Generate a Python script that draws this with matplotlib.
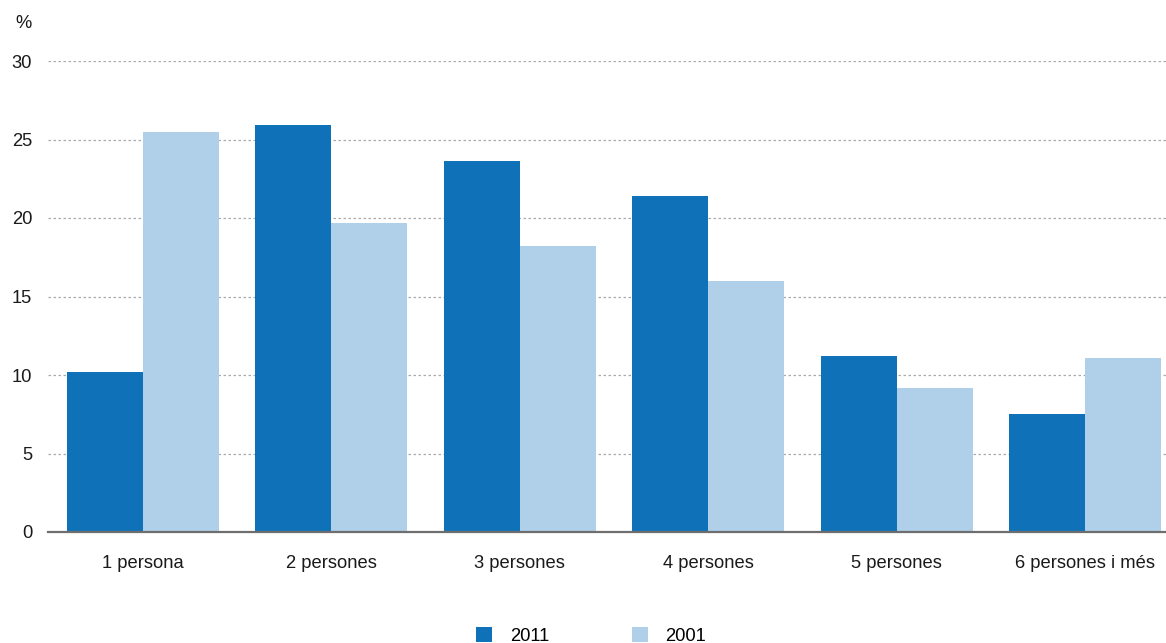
import matplotlib
matplotlib.use("Agg")
import matplotlib.pyplot as plt
import numpy as np
from matplotlib.patches import Patch

plt.rcParams['font.family'] = ['Liberation Sans', 'DejaVu Sans']

categories = ["1 persona", "2 persones", "3 persones", "4 persones", "5 persones", "6 persones i més"]
series_names = ["2011", "2001"]
values_2011 = [10.2, 25.9, 23.6, 21.4, 11.2, 7.5]
values_2001 = [25.5, 19.7, 18.2, 16.0, 9.2, 11.1]
y_ticks = [0, 5, 10, 15, 20, 25, 30]

c2011 = "#0F72B9"
c2001 = "#AFD0E8"
FS = 13.2

W, H = 1166, 643
fig = plt.figure(figsize=(W / 100, H / 100), dpi=100)
ax = fig.add_axes([48 / W, 1 - 532 / H, 1 - 48 / W, (532 - 61) / H])

x = np.arange(len(categories))
bw = 0.403
ax.bar(x - bw / 2, values_2011, width=bw, color=c2011, zorder=3, linewidth=0)
ax.bar(x + bw / 2, values_2001, width=bw, color=c2001, zorder=3, linewidth=0)

ax.set_xlim(-0.504, 5.43)
ax.set_ylim(0, 30)
ax.set_yticks(y_ticks)
ax.set_yticklabels([str(t) for t in y_ticks])
ax.set_xticks(x)
ax.set_xticklabels(categories)

for s in ["top", "right", "left"]:
    ax.spines[s].set_visible(False)
ax.spines["bottom"].set_color("#6E6E6E")
ax.spines["bottom"].set_linewidth(1.6)
ax.spines["bottom"].set_zorder(4)

ax.tick_params(axis="y", length=0, pad=11.5, labelsize=FS, labelcolor="#1a1a1a")
ax.tick_params(axis="x", length=0, pad=16.5, labelsize=FS, labelcolor="#1a1a1a")

ax.yaxis.grid(True, color="#AAAAAA", linestyle=(0, (2, 2)), linewidth=0.9, zorder=0)
ax.set_axisbelow(True)

fig.text(32 / W, 1 - 24 / H, "%", ha="right", va="center", fontsize=FS, color="#1a1a1a")

handles = [Patch(facecolor=c2011, edgecolor="none"), Patch(facecolor=c2001, edgecolor="none")]
fig.legend(handles, series_names, loc="center", bbox_to_anchor=(591 / W, 1 - 636 / H),
           ncol=2, frameon=False, fontsize=FS, handlelength=0.88, handleheight=0.88,
           handletextpad=0.95, columnspacing=4.5, borderpad=0, borderaxespad=0)

fig.savefig("out.png", dpi=100)
